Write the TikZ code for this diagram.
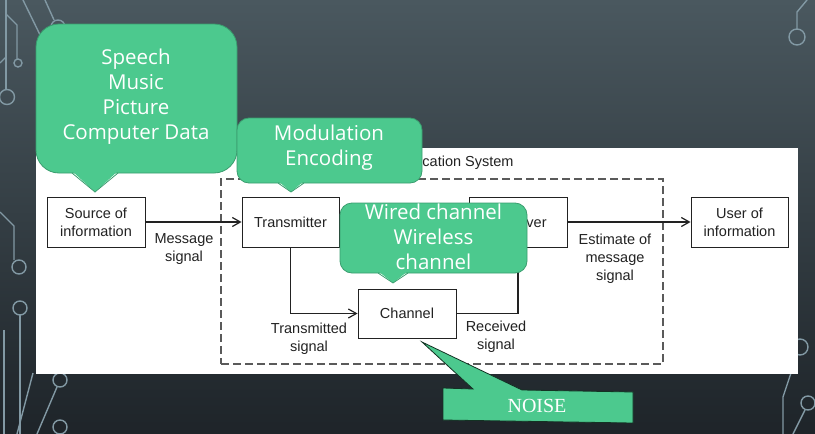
\documentclass[tikz,border=0pt]{standalone}
\usepackage{fontspec}
\setmainfont{Liberation Sans}
\newfontfamily\callfont{Open Sans}
\newfontfamily\noisefont{Liberation Serif}
\usetikzlibrary{arrows.meta}

\definecolor{bgtop}{HTML}{4A585F}
\definecolor{bgbot}{HTML}{1E2429}
\definecolor{trace}{HTML}{8299A4}
\definecolor{callfill}{HTML}{4CC98E}
\definecolor{calledge}{HTML}{3A9E6F}
\definecolor{ink}{HTML}{222222}
\definecolor{dashgray}{HTML}{5A5A5A}

\begin{document}
\begin{tikzpicture}[x=1pt,y=-1pt,
  trace/.style={draw=trace, line width=1.4pt},
  block/.style={draw=ink, line width=0.9pt, fill=white, minimum width=98pt,
    minimum height=50pt, inner sep=0pt, align=center,
    font=\fontsize{14.5}{18}\selectfont, text=ink},
  lbl/.style={align=center, font=\fontsize{14.5}{18}\selectfont, text=ink, inner sep=0pt},
  conn/.style={draw=ink, line width=1.8pt},
  arr/.style={conn, -{Straight Barb[length=8pt,width=9pt,line width=1.2pt]}},
  sysbox/.style={draw=dashgray, line width=1.3pt, dash pattern=on 8pt off 4pt,
    minimum width=442pt, minimum height=185pt, inner sep=0pt},
  callbody/.style={fill=callfill, draw=calledge, line width=0.8pt},
  calltext/.style={text=white, align=center, font=\callfont\fontsize{20.5}{25}\selectfont, inner sep=0pt},
]
\useasboundingbox (0,0) rectangle (815,434);

% slide background
\shade[top color=bgtop, bottom color=bgbot] (0,0) rectangle (815,434);

% circuit traces, top left
\draw[trace] (6,0) -- (6,89);
\draw[trace] (7,97) circle[radius=7.5pt];
\draw[trace] (0,63) -- (6,57);
\draw[trace] (6,14) -- (17,25) -- (17,59);
\draw[trace] (18,63) circle[radius=4pt];
\draw[trace] (23,0) -- (45,45);
\draw[trace] (45,0) -- (54,20);
\draw[trace] (58,27) circle[radius=7pt];
% circuit traces, left and bottom left
\draw[trace] (0,212) -- (14,226) -- (14,260);
\draw[trace] (19,267) circle[radius=7pt];
\draw[trace] (20,308) circle[radius=7pt];
\draw[trace] (20,315) -- (20,434);
\draw[trace] (4,330) -- (4,434);
\draw[trace] (60,380) circle[radius=7pt];
\draw[trace] (57,387) -- (37,434);
\draw[trace] (60,427) circle[radius=7pt];
\draw[trace] (33,373) -- (17,434);
% circuit traces, right side
\draw[trace] (807,0) -- (797,12) -- (797,29);
\draw[trace] (797,37) circle[radius=8pt];
\draw[trace] (800,347) circle[radius=8pt];
\draw[trace] (797,355) -- (783,397) -- (783,434);
\draw[trace] (808,403) circle[radius=7pt];
\draw[trace] (805,410) -- (793,434);

% white panel
\fill[white] (36,148) rectangle (798,374);

% communication system frame and title
\node[sysbox] (sys) at (442,271.5) {};
\node[lbl] (title) at (437,163) {Communication System};

% blocks
\node[block] (src) at (96,222) {Source of\\information};
\node[block, minimum width=97pt] (tx) at (290.5,222) {Transmitter};
\node[block] (rx) at (518,222) {Receiver};
\node[block, minimum width=97pt] (usr) at (739.5,222) {User of\\information};
\node[block, minimum height=49pt] (ch) at (407,313.5) {Channel};

% signal paths
\draw[arr] (src.east) -- (tx.west);
\draw[arr] (tx.south) |- (ch.west);
\draw[arr] (ch.east) -| (rx.south);
\draw[arr] (rx.east) -- (usr.west);

% signal labels
\node[lbl] (msg) at (184,249) {Message\\signal};
\node[lbl] (est) at (615,259) {Estimate of\\message\\signal};
\node[lbl] (txs) at (309,339) {Transmitted\\signal};
\node[lbl] (rxs) at (496,337) {Received\\signal};

% callout: information sources
\path[callbody, rounded corners=23pt] (36,24) rectangle (237,173);
\fill[callfill] (72,171) -- (118,171) -- (95,192) -- cycle;
\draw[calledge, line width=0.8pt] (72,173) -- (95,192) -- (118,173);
\node[calltext] (data) at (136,97) {Speech\\Music\\Picture\\Computer Data};

% callout: transmitter tasks
\path[callbody, rounded corners=12pt] (237,118) rectangle (422,183);
\fill[callfill] (278,181) -- (304,181) -- (291,192) -- cycle;
\draw[calledge, line width=0.8pt] (278,183) -- (291,192) -- (304,183);
\node[calltext] (mod) at (329,147.5) {Modulation\\Encoding};

% callout: channel kinds
\path[callbody, rounded corners=12pt] (340,203) rectangle (527,273);
\fill[callfill] (378,271) -- (408,271) -- (393,283) -- cycle;
\draw[calledge, line width=0.8pt] (378,273) -- (393,283) -- (408,273);
\node[calltext] (wire) at (433.5,237) {Wired channel\\Wireless\\channel};

% callout: noise
\path[fill=callfill, draw=black!75!callfill, line width=0.8pt]
  (443,388) -- (473,389) -- (422,342) -- (522,390) -- (633,392)
  -- (633,423) -- (443,420) -- cycle;
\node[text=white, font=\noisefont\fontsize{20}{24}\selectfont, inner sep=0pt] (noise) at (537,406) {NOISE};
\end{tikzpicture}
\end{document}
